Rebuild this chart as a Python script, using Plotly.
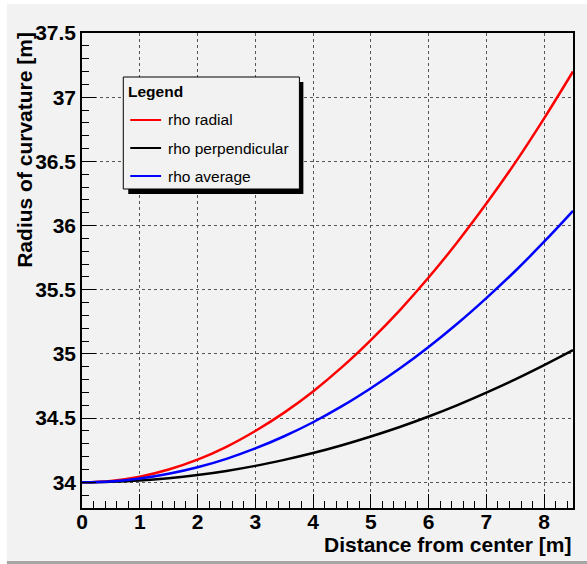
import plotly.graph_objects as go

distance = [0, 0.5, 1, 1.5, 2, 2.5, 3, 3.5, 4, 4.5, 5, 5.5, 6, 6.5, 7, 7.5, 8, 8.5]
rho_radial = [34.00, 34.011, 34.044, 34.10, 34.177, 34.277, 34.40, 34.543, 34.708, 34.897,
              35.108, 35.34, 35.595, 35.872, 36.171, 36.49, 36.835, 37.20]
rho_perp = [34.00, 34.004, 34.014, 34.032, 34.057, 34.089, 34.128, 34.175, 34.228, 34.289,
            34.357, 34.431, 34.513, 34.602, 34.699, 34.802, 34.913, 35.03]
rho_avg = [34.00, 34.007, 34.029, 34.066, 34.117, 34.183, 34.264, 34.359, 34.468, 34.593,
           34.733, 34.886, 35.054, 35.237, 35.435, 35.646, 35.874, 36.115]

series_names = ["rho radial", "rho perpendicular", "rho average"]
series_colors = ["#ff0000", "#000000", "#0000ff"]

x_ticks = [0, 1, 2, 3, 4, 5, 6, 7, 8]
y_ticks = [34, 34.5, 35, 35.5, 36, 36.5, 37, 37.5]
y_tick_labels = ["34", "34.5", "35", "35.5", "36", "36.5", "37", "37.5"]

FONT = "Liberation Sans, Arial, Helvetica, sans-serif"
W, H = 587, 564
L, R, T, B = 81.5, 575, 33, 508


def px(x):
    return (x - L) / (R - L)


def py(y):
    return (B - y) / (B - T)


fig = go.Figure()
for name, vals, col in zip(series_names, [rho_radial, rho_perp, rho_avg], series_colors):
    fig.add_trace(go.Scatter(x=distance, y=vals, mode="lines", name=name,
                             line=dict(color=col, width=2.5, shape="spline"),
                             showlegend=False))

axis_common = dict(
    showline=True, linecolor="black", linewidth=1.5, mirror=True,
    ticks="inside", ticklen=14, tickcolor="black", tickwidth=1,
    showgrid=True, gridcolor="#555555", griddash="dot", gridwidth=1,
    zeroline=False,
    tickfont=dict(family=FONT, size=21, color="black", weight="bold"),
)

fig.update_xaxes(range=[0, 8.5], tickvals=x_ticks, ticklabelstandoff=-6, **axis_common,
                 minor=dict(ticks="inside", ticklen=7, dtick=0.2, tick0=0,
                            tickcolor="black", showgrid=False))
fig.update_yaxes(range=[33.8, 37.5], tickvals=y_ticks, ticktext=y_tick_labels,
                 **axis_common,
                 minor=dict(ticks="inside", ticklen=7, dtick=0.1, tick0=34,
                            tickcolor="black", showgrid=False))

shapes = [
    # canvas background
    dict(type="rect", xref="paper", yref="paper", x0=px(6), x1=px(600), y0=py(561), y1=py(4),
         fillcolor="#f2f2f2", line=dict(width=0), layer="below"),
    dict(type="rect", xref="paper", yref="paper", x0=px(6), x1=px(600), y0=py(565), y1=py(561),
         fillcolor="#a6a6a6", line=dict(width=0), layer="below"),
    # legend shadow
    dict(type="rect", xref="paper", yref="paper", x0=px(128), x1=px(304), y0=py(194), y1=py(82),
         fillcolor="black", line=dict(width=0), layer="above"),
    # legend box
    dict(type="rect", xref="paper", yref="paper", x0=px(123), x1=px(300), y0=py(189), y1=py(77),
         fillcolor="#f2f2f2", line=dict(width=1, color="black"), layer="above"),
]

annotations = [
    dict(text="<b>Distance from center [m]</b>", xref="paper", yref="paper",
         x=1, y=py(544), xanchor="right", yanchor="middle", showarrow=False,
         font=dict(family=FONT, size=21, color="black")),
    dict(text="<b>Radius of curvature [m]</b>", xref="paper", yref="paper",
         x=px(24), y=py(30), xanchor="center", yanchor="top", textangle=-90, showarrow=False,
         font=dict(family=FONT, size=21, color="black")),
    dict(text="<b>Legend</b>", xref="paper", yref="paper",
         x=px(126), y=py(91), xanchor="left", yanchor="middle", showarrow=False,
         font=dict(family=FONT, size=15.5, color="black")),
]

row_y = [120, 148, 176]
for name, col, ry in zip(series_names, series_colors, row_y):
    shapes.append(dict(type="line", xref="paper", yref="paper",
                       x0=px(130), x1=px(161), y0=py(ry), y1=py(ry),
                       line=dict(color=col, width=2), layer="above"))
    annotations.append(dict(text=name, xref="paper", yref="paper",
                            x=px(166), y=py(ry), xanchor="left", yanchor="middle",
                            showarrow=False,
                            font=dict(family=FONT, size=15.5, color="black")))

fig.update_layout(
    width=W, height=H,
    margin=dict(l=L, r=W - R, t=T, b=H - B),
    paper_bgcolor="white", plot_bgcolor="#f2f2f2",
    shapes=shapes, annotations=annotations,
    showlegend=False,
    font=dict(family=FONT),
)

fig.write_html("out.html")
